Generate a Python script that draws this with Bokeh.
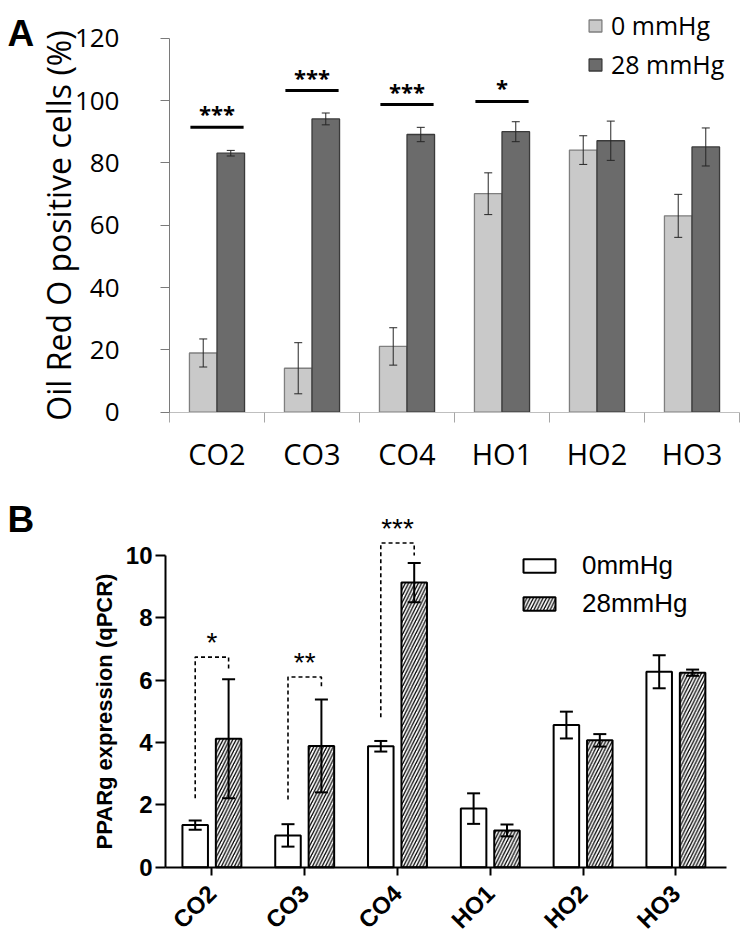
import math
from bokeh.plotting import figure
from bokeh.models import Range1d, FixedTicker, Whisker, TeeHead, ColumnDataSource, Label
from bokeh.layouts import column
from bokeh.embed import file_html
from bokeh.resources import INLINE
from bokeh.core.properties import value

# ---------------- data ----------------
categories = ["CO2", "CO3", "CO4", "HO1", "HO2", "HO3"]

# Panel A: Oil Red O positive cells (%)
a_0mmHg = [19.0, 14.1, 21.1, 70.1, 84.1, 63.0]
a_0mmHg_err = [4.5, 8.2, 6.0, 6.7, 4.6, 6.9]
a_28mmHg = [83.1, 94.1, 89.1, 90.0, 87.1, 85.1]
a_28mmHg_err = [0.9, 1.9, 2.3, 3.2, 6.3, 6.1]
a_sig_categories = ["CO2", "CO3", "CO4", "HO1"]
a_sig_levels = [91.4, 103.2, 98.7, 99.7]
a_sig_labels = ["***", "***", "***", "*"]
a_yticks = [0, 20, 40, 60, 80, 100, 120]

# Panel B: PPARg expression (qPCR)
b_0mmHg = [1.35, 1.02, 3.88, 1.88, 4.56, 6.27]
b_0mmHg_err = [0.15, 0.36, 0.17, 0.49, 0.43, 0.53]
b_28mmHg = [4.12, 3.89, 9.13, 1.18, 4.07, 6.24]
b_28mmHg_err = [1.91, 1.49, 0.63, 0.19, 0.20, 0.10]
b_sig_categories = ["CO2", "CO3", "CO4"]
b_sig_top = [6.74, 6.10, 10.40]
b_sig_left_low = [2.21, 2.17, 4.81]
b_sig_right_low = [6.36, 5.72, 10.00]
b_sig_labels = ["*", "**", "***"]
b_yticks = [0, 2, 4, 6, 8, 10]

W = 746
xc = [i + 0.5 for i in range(len(categories))]


def make_fig(h, axis_px, cat_px, zero_px, unit_px):
    """Figure whose frame fills the whole canvas; axes are pinned at x=0 / y=0."""
    p = figure(width=W, height=h,
               x_range=Range1d(-axis_px / cat_px, (W - axis_px) / cat_px),
               y_range=Range1d(-(h - zero_px) / unit_px, zero_px / unit_px),
               output_backend="svg", toolbar_location=None,
               min_border_left=0, min_border_right=0, min_border_top=0, min_border_bottom=0)
    p.outline_line_color = None
    p.grid.visible = False
    p.xaxis.fixed_location = 0
    p.yaxis.fixed_location = 0
    return p


# ---------------- panel A ----------------
A_H = 478
A_OFF, A_W = 0.145, 0.29
pA = make_fig(A_H, axis_px=169, cat_px=95.0, zero_px=411.7, unit_px=(411.7 - 37.7) / 120)

srcA = ColumnDataSource(dict(
    x0=[x - A_OFF for x in xc], x1=[x + A_OFF for x in xc],
    v0=a_0mmHg, v1=a_28mmHg,
    lo0=[v - e for v, e in zip(a_0mmHg, a_0mmHg_err)], hi0=[v + e for v, e in zip(a_0mmHg, a_0mmHg_err)],
    lo1=[v - e for v, e in zip(a_28mmHg, a_28mmHg_err)], hi1=[v + e for v, e in zip(a_28mmHg, a_28mmHg_err)],
))
pA.vbar(x="x0", top="v0", width=A_W, source=srcA, fill_color="#c9c9c9",
        line_color="#7f7f7f", line_width=1.3, legend_label="0 mmHg")
pA.vbar(x="x1", top="v1", width=A_W, source=srcA, fill_color="#6b6b6b",
        line_color="#3a3a3a", line_width=1.3, legend_label="28 mmHg")
for b, lo, hi in (("x0", "lo0", "hi0"), ("x1", "lo1", "hi1")):
    pA.add_layout(Whisker(base=b, lower=lo, upper=hi, source=srcA, level="annotation",
                          line_color="#262626", line_width=1,
                          upper_head=TeeHead(size=8, line_color="#262626", line_width=1),
                          lower_head=TeeHead(size=8, line_color="#262626", line_width=1)))

a_sig_x = [categories.index(c) + 0.5 for c in a_sig_categories]
pA.segment(x0=[x - 0.28 for x in a_sig_x], x1=[x + 0.28 for x in a_sig_x],
           y0=a_sig_levels, y1=a_sig_levels, line_color="black", line_width=3)
pA.text(x=a_sig_x, y=a_sig_levels, text=a_sig_labels, text_align="center",
        text_baseline="alphabetic", text_font=value("Open Sans"), text_font_style="bold",
        text_font_size="22px", y_offset=-14, text_color="black")

ya = pA.yaxis[0]
ya.ticker = FixedTicker(ticks=a_yticks)
ya.bounds = (0, 120)
ya.axis_line_color = "#7a7a7a"
ya.major_tick_line_color = "#7a7a7a"
ya.major_tick_out = 9
ya.major_tick_in = 0
ya.minor_tick_line_color = None
ya.major_label_text_font = "Open Sans"
ya.major_label_text_font_size = "26px"
ya.major_label_text_color = "black"
ya.major_label_standoff = 41
ya.axis_label = "Oil Red O positive cells (%)"
ya.axis_label_text_font = "Open Sans"
ya.axis_label_text_font_size = "32px"
ya.axis_label_text_font_style = "normal"
ya.axis_label_text_color = "black"
ya.axis_label_standoff = -8

xa = pA.xaxis[0]
xa.ticker = FixedTicker(ticks=xc, minor_ticks=list(range(len(categories) + 1)))
xa.bounds = (0, len(categories))
xa.major_label_overrides = {x: c for x, c in zip(xc, categories)}
xa.axis_line_color = "#bfbfbf"
xa.major_tick_line_color = None
xa.major_tick_out = 0
xa.major_tick_in = 0
xa.minor_tick_line_color = "#a6a6a6"
xa.minor_tick_out = 10
xa.minor_tick_in = 0
xa.major_label_text_font = "Open Sans"
xa.major_label_text_font_size = "29px"
xa.major_label_text_color = "black"
xa.major_label_standoff = 12

lgA = pA.legend[0]
lgA.location = (587, A_H - 81)
lgA.glyph_width = 16
lgA.glyph_height = 15
lgA.label_height = 15
lgA.spacing = 5
lgA.label_standoff = 8
lgA.padding = 0
lgA.margin = 0
lgA.border_line_color = None
lgA.background_fill_alpha = 0
lgA.label_text_font = "Open Sans"
lgA.label_text_font_size = "25px"
lgA.label_text_color = "black"

pA.add_layout(Label(x=7, y=A_H - 33, x_units="screen", y_units="screen", text="A",
                    text_font="Liberation Sans", text_font_style="bold",
                    text_font_size="37px", text_baseline="alphabetic", text_color="black"))

# ---------------- panel B ----------------
B_H = 939 - A_H
B_OFF, B_W = 0.18, 0.275
pB = make_fig(B_H, axis_px=165, cat_px=92.8, zero_px=866.7 - A_H, unit_px=(866.7 - 555.0) / 10)

srcB = ColumnDataSource(dict(
    x0=[x - B_OFF for x in xc], x1=[x + B_OFF for x in xc],
    v0=b_0mmHg, v1=b_28mmHg,
    lo0=[v - e for v, e in zip(b_0mmHg, b_0mmHg_err)], hi0=[v + e for v, e in zip(b_0mmHg, b_0mmHg_err)],
    lo1=[v - e for v, e in zip(b_28mmHg, b_28mmHg_err)], hi1=[v + e for v, e in zip(b_28mmHg, b_28mmHg_err)],
))
pB.vbar(x="x0", top="v0", width=B_W, source=srcB, fill_color="white",
        line_color="black", line_width=2, legend_label="0mmHg")
pB.vbar(x="x1", top="v1", width=B_W, source=srcB, fill_color="white",
        line_color="black", line_width=2, hatch_pattern="/", hatch_color="black",
        hatch_weight=1.3, hatch_scale=6.5, legend_label="28mmHg")
for b, lo, hi in (("x0", "lo0", "hi0"), ("x1", "lo1", "hi1")):
    pB.add_layout(Whisker(base=b, lower=lo, upper=hi, source=srcB, level="annotation",
                          line_color="black", line_width=2,
                          upper_head=TeeHead(size=13, line_color="black", line_width=2),
                          lower_head=TeeHead(size=13, line_color="black", line_width=2)))

b_sig_x = [categories.index(c) + 0.5 for c in b_sig_categories]
xs, ys = [], []
for x, top, llo, rlo in zip(b_sig_x, b_sig_top, b_sig_left_low, b_sig_right_low):
    xs.append([x - B_OFF, x - B_OFF, x + B_OFF, x + B_OFF])
    ys.append([llo, top, top, rlo])
pB.multi_line(xs=xs, ys=ys, line_color="black", line_width=1.6, line_dash="4 3")
pB.text(x=b_sig_x, y=b_sig_top, text=b_sig_labels, text_align="center",
        text_baseline="alphabetic", text_font=value("Liberation Sans"),
        text_font_size="28px", y_offset=-15, text_color="black")

yb = pB.yaxis[0]
yb.ticker = FixedTicker(ticks=b_yticks)
yb.bounds = (0, 10)
yb.axis_line_color = "black"
yb.axis_line_width = 2
yb.major_tick_line_color = "black"
yb.major_tick_line_width = 2
yb.major_tick_out = 10
yb.major_tick_in = 0
yb.minor_tick_line_color = None
yb.major_label_text_font = "Liberation Sans"
yb.major_label_text_font_style = "bold"
yb.major_label_text_font_size = "24px"
yb.major_label_text_color = "black"
yb.major_label_standoff = 3
yb.axis_label = "PPARg expression (qPCR)"
yb.axis_label_text_font = "Liberation Sans"
yb.axis_label_text_font_style = "bold"
yb.axis_label_text_font_size = "22px"
yb.axis_label_text_color = "black"
yb.axis_label_standoff = 6

xb = pB.xaxis[0]
xb.ticker = FixedTicker(ticks=xc)
xb.bounds = (0, (726 - 165) / 92.8)
xb.major_label_overrides = {x: c for x, c in zip(xc, categories)}
xb.axis_line_color = "black"
xb.axis_line_width = 2
xb.major_tick_line_color = "black"
xb.major_tick_line_width = 2
xb.major_tick_out = 8
xb.major_tick_in = 0
xb.minor_tick_line_color = None
xb.major_label_orientation = math.pi / 4
xb.major_label_text_font = "Liberation Sans"
xb.major_label_text_font_style = "bold"
xb.major_label_text_font_size = "24px"
xb.major_label_text_color = "black"
xb.major_label_standoff = 14

lgB = pB.legend[0]
lgB.location = (519, B_H - 141)
lgB.glyph_width = 40
lgB.glyph_height = 17
lgB.label_height = 17
lgB.spacing = 7
lgB.label_standoff = 23
lgB.padding = 0
lgB.margin = 0
lgB.border_line_color = None
lgB.background_fill_alpha = 0
lgB.label_text_font = "Liberation Sans"
lgB.label_text_font_size = "26px"
lgB.label_text_color = "black"

pB.add_layout(Label(x=7, y=B_H - 41, x_units="screen", y_units="screen", text="B",
                    text_font="Liberation Sans", text_font_style="bold",
                    text_font_size="37px", text_baseline="alphabetic", text_color="black"))

layout = column(pA, pB, spacing=0)
open("out.html", "w").write(file_html(layout, INLINE))
